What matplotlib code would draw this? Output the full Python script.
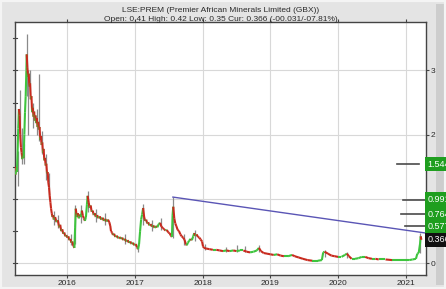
import matplotlib
matplotlib.use("Agg")
import matplotlib.pyplot as plt
from matplotlib.collections import LineCollection
import matplotlib.transforms as mtransforms
import numpy as np

# ---- data (decimal years, GBX) ----
dates = [
    2015.227, 2015.235, 2015.245, 2015.255, 2015.265, 2015.275, 2015.285, 2015.295, 2015.305, 2015.315,
    2015.325, 2015.335, 2015.345, 2015.355, 2015.365, 2015.375, 2015.385, 2015.395, 2015.40, 2015.41,
    2015.42, 2015.43, 2015.44, 2015.45, 2015.46, 2015.47, 2015.48, 2015.49, 2015.50, 2015.51,
    2015.52, 2015.53, 2015.54, 2015.55, 2015.56, 2015.57, 2015.58, 2015.59, 2015.60, 2015.61,
    2015.62, 2015.63, 2015.64, 2015.65, 2015.66, 2015.67, 2015.68, 2015.69, 2015.70, 2015.71,
    2015.72, 2015.73, 2015.74, 2015.75, 2015.76, 2015.77, 2015.78, 2015.79, 2015.80, 2015.82,
    2015.84, 2015.86, 2015.88, 2015.895, 2015.91, 2015.925, 2015.94, 2015.955, 2015.97, 2015.985,
    2016.00, 2016.015, 2016.03, 2016.045, 2016.06, 2016.075, 2016.09, 2016.105, 2016.115, 2016.125,
    2016.14, 2016.155, 2016.17, 2016.185, 2016.20, 2016.215, 2016.23, 2016.245, 2016.26, 2016.275,
    2016.29, 2016.30, 2016.315, 2016.33, 2016.345, 2016.36, 2016.375, 2016.39, 2016.405, 2016.42,
    2016.44, 2016.46, 2016.48, 2016.50, 2016.52, 2016.54, 2016.56, 2016.58, 2016.60, 2016.62,
    2016.635, 2016.645, 2016.66, 2016.675, 2016.69, 2016.71, 2016.73, 2016.75, 2016.77, 2016.79,
    2016.81, 2016.83, 2016.85, 2016.87, 2016.89, 2016.91, 2016.93, 2016.95, 2016.97, 2016.99,
    2017.01, 2017.03, 2017.045, 2017.06, 2017.075, 2017.09, 2017.105, 2017.12, 2017.135, 2017.15,
    2017.165, 2017.18, 2017.195, 2017.21, 2017.23, 2017.25, 2017.27, 2017.29, 2017.31, 2017.33,
    2017.35, 2017.37, 2017.39, 2017.41, 2017.43, 2017.45, 2017.47, 2017.49, 2017.51, 2017.53,
    2017.545, 2017.555, 2017.565, 2017.58, 2017.595, 2017.61, 2017.63, 2017.65, 2017.67, 2017.69,
    2017.71, 2017.73, 2017.75, 2017.765, 2017.78, 2017.80, 2017.82, 2017.84, 2017.86, 2017.875,
    2017.89, 2017.91, 2017.93, 2017.95, 2017.97, 2017.99, 2018.005, 2018.02, 2018.05, 2018.10,
    2018.15, 2018.20, 2018.25, 2018.30, 2018.35, 2018.40, 2018.45, 2018.50, 2018.55, 2018.60,
    2018.65, 2018.70, 2018.75, 2018.80, 2018.83, 2018.86, 2018.90, 2018.95, 2019.00, 2019.05,
    2019.10, 2019.15, 2019.20, 2019.26, 2019.32, 2019.36, 2019.42, 2019.48, 2019.55, 2019.62,
    2019.70, 2019.76, 2019.78, 2019.80, 2019.85, 2019.90, 2019.95, 2020.00, 2020.05, 2020.10,
    2020.13, 2020.16, 2020.20, 2020.25, 2020.30, 2020.35, 2020.40, 2020.45, 2020.50, 2020.55,
    2020.60, 2020.70, 2020.80, 2020.90, 2021.00, 2021.05, 2021.10, 2021.15, 2021.17, 2021.19,
    2021.21, 2021.22, 2021.23]
close = [
    1.50, 1.38, 1.48, 1.42, 1.70, 2.10, 2.40, 2.30, 2.00, 1.80,
    1.72, 1.62, 1.70, 1.64, 2.00, 2.35, 2.60, 3.00, 3.25, 3.05,
    2.90, 2.95, 2.75, 2.80, 2.55, 2.60, 2.35, 2.42, 2.28, 2.36,
    2.22, 2.30, 2.18, 2.26, 2.12, 2.20, 2.08, 2.12, 1.92, 1.98,
    1.84, 1.88, 1.72, 1.78, 1.60, 1.64, 1.52, 1.55, 1.40, 1.42,
    1.25, 1.18, 1.05, 0.95, 0.85, 0.78, 0.72, 0.75, 0.68, 0.72,
    0.64, 0.67, 0.56, 0.60, 0.50, 0.53, 0.46, 0.48, 0.42, 0.44,
    0.40, 0.42, 0.36, 0.38, 0.32, 0.34, 0.27, 0.24, 0.55, 0.85,
    0.72, 0.78, 0.70, 0.76, 0.72, 0.82, 0.74, 0.70, 0.66, 0.72,
    0.92, 1.05, 0.95, 0.86, 0.90, 0.80, 0.82, 0.75, 0.78, 0.72,
    0.75, 0.70, 0.73, 0.68, 0.71, 0.66, 0.69, 0.65, 0.68, 0.64,
    0.58, 0.50, 0.48, 0.44, 0.46, 0.41, 0.43, 0.39, 0.41, 0.38,
    0.40, 0.36, 0.38, 0.34, 0.36, 0.32, 0.34, 0.30, 0.32, 0.28,
    0.30, 0.25, 0.22, 0.30, 0.50, 0.68, 0.76, 0.86, 0.72, 0.66,
    0.68, 0.62, 0.64, 0.59, 0.61, 0.57, 0.59, 0.55, 0.58, 0.56,
    0.61, 0.63, 0.57, 0.55, 0.53, 0.51, 0.52, 0.48, 0.47, 0.43,
    0.41, 0.75, 0.88, 0.70, 0.62, 0.58, 0.52, 0.50, 0.45, 0.42,
    0.40, 0.37, 0.30, 0.28, 0.32, 0.35, 0.38, 0.36, 0.42, 0.47,
    0.43, 0.45, 0.41, 0.40, 0.37, 0.34, 0.26, 0.24, 0.23, 0.22,
    0.21, 0.21, 0.20, 0.19, 0.20, 0.19, 0.20, 0.19, 0.20, 0.20,
    0.18, 0.17, 0.18, 0.20, 0.24, 0.19, 0.16, 0.15, 0.14, 0.13,
    0.14, 0.12, 0.11, 0.11, 0.13, 0.11, 0.09, 0.07, 0.05, 0.04,
    0.04, 0.05, 0.17, 0.18, 0.15, 0.12, 0.11, 0.10, 0.10, 0.13,
    0.15, 0.11, 0.07, 0.07, 0.08, 0.10, 0.10, 0.08, 0.07, 0.07,
    0.06, 0.06, 0.05, 0.05, 0.05, 0.05, 0.06, 0.07, 0.15, 0.16,
    0.30, 0.42, 0.366]
assert len(dates) == len(close)

# high/low wicks (grey spikes visible in the chart)
wick_dates = [2015.265, 2015.30, 2015.33, 2015.36, 2015.40, 2015.42, 2015.45, 2015.50, 2015.55,
              2015.58, 2015.62, 2015.68, 2015.73, 2015.80, 2015.86, 2016.05, 2016.12, 2016.20,
              2016.30, 2016.42, 2016.55, 2016.85, 2017.04, 2017.12, 2017.25, 2017.38, 2017.56,
              2017.73, 2017.88, 2018.03, 2018.35, 2018.50, 2018.62, 2018.83, 2019.80, 2020.13,
              2021.21]
wick_high = [1.75, 2.69, 2.10, 1.85, 3.57, 3.00, 3.00, 2.50, 2.40,
             2.95, 2.05, 1.70, 1.40, 0.82, 0.75, 0.45, 0.90, 0.90,
             1.13, 0.85, 0.78, 0.45, 0.32, 0.93, 0.68, 0.70, 1.03,
             0.45, 0.52, 0.30, 0.25, 0.28, 0.27, 0.29, 0.21, 0.18,
             0.47]
wick_low = [1.20, 1.90, 1.55, 1.55, 2.60, 2.00, 2.60, 2.10, 2.00,
            1.90, 1.70, 1.30, 1.00, 0.60, 0.55, 0.28, 0.30, 0.62,
            0.80, 0.65, 0.60, 0.30, 0.18, 0.60, 0.50, 0.52, 0.40,
            0.28, 0.35, 0.20, 0.17, 0.17, 0.18, 0.17, 0.10, 0.08,
            0.16]

trend_dates = [2017.56, 2021.30]
trend_vals = [1.03, 0.47]

target_levels = [1.544, 0.991, 0.764, 0.577]
target_labels = ["1.544", "0.991", "0.764", "0.577"]
target_start = [0.929, 0.945, 0.940, 0.950]   # axes-fraction start of the marker lines
target_end = [0.983, 1.0, 1.0, 1.0]
current_level = 0.366
current_label = "0.366"

title1 = "LSE:PREM (Premier African Minerals Limited (GBX))"
title2 = "Open: 0.41 High: 0.42 Low: 0.35 Cur: 0.366 (-00.031/-07.81%)"
year_ticks = [2016, 2017, 2018, 2019, 2020, 2021]
y_ticks = [0, 1, 2, 3]

# ---- figure ----
FONT = "Liberation Sans"
TXT = "#2a2a2a"
fig = plt.figure(figsize=(4.46, 2.89), dpi=100, facecolor="#e4e4e4")
fig.patches.append(plt.Rectangle((0.978, 0.015), 0.022, 0.97, transform=fig.transFigure,
                                 facecolor="#cdcdcd", edgecolor="none", zorder=-2))
fig.patches.append(plt.Rectangle((0, 0), 1, 1, transform=fig.transFigure,
                                 facecolor="none", edgecolor="#f4f4f4", lw=3, zorder=-1))

ax = fig.add_axes([0.0336, 0.0484, 0.9215, 0.8755])
ax.set_facecolor("white")
ax.set_xlim(2015.227, 2021.298)
ax.set_ylim(-0.182, 3.753)

ax.set_xticks(year_ticks)
ax.set_xticklabels([str(y) for y in year_ticks], fontsize=6, family=FONT, color=TXT)
ax.yaxis.tick_right()
ax.set_yticks(y_ticks)
ax.set_yticklabels([str(v) for v in y_ticks], fontsize=6, family=FONT, color=TXT)
ax.tick_params(axis="y", which="major", direction="out", length=2, pad=1.5, color="#444444")
ax.tick_params(axis="x", which="major", direction="out", length=2, pad=1.5, color="#444444",
               top=True)
ax.grid(True, color="#d8d8d8", lw=0.8)
ax.set_axisbelow(True)
for s in ax.spines.values():
    s.set_color("#444444")
    s.set_linewidth(1.0)

bt = mtransforms.blended_transform_factory(ax.transAxes, ax.transData)

# left minor ticks every 0.5
for v in [0.5 * i for i in range(0, 8)]:
    ax.plot([-0.004, 0.004], [v, v], transform=bt, color="#444444", lw=0.8, clip_on=False)

# wicks
ax.vlines(wick_dates, wick_low, wick_high, color="#8a8a8a", lw=0.9, zorder=2)

# price segments, green up / red down
d = np.array(dates)
c = np.array(close)
segs = np.stack([np.column_stack([d[:-1], c[:-1]]), np.column_stack([d[1:], c[1:]])], axis=1)
cols = ["#3ec43e" if c[i + 1] >= c[i] else "#c82a1e" for i in range(len(c) - 1)]
ax.add_collection(LineCollection(segs, colors=cols, linewidths=1.5, zorder=3))

# trend line
ax.plot(trend_dates, trend_vals, color="#5a55b5", lw=1.0, zorder=4, clip_on=False)

# target marker lines
for lvl, x0, x1 in zip(target_levels, target_start, target_end):
    ax.plot([x0, x1], [lvl, lvl], transform=bt, color="#4a4a4a", lw=1.2, zorder=5)

# price boxes on right axis
for lvl, lab in zip(target_levels, target_labels):
    ax.text(1.004, lvl, lab, transform=bt, fontsize=6.5, family=FONT, color="white",
            va="center", ha="left",
            bbox=dict(boxstyle="square,pad=0.3", fc="#1f9e1f", ec="none"), zorder=6, clip_on=False)
ax.text(1.004, current_level, current_label, transform=bt, fontsize=6.5, family=FONT, color="white",
        va="center", ha="left",
        bbox=dict(boxstyle="square,pad=0.3", fc="#111111", ec="none"), zorder=6, clip_on=False)

fig.text(0.494, 0.975, title1, ha="center", va="top", fontsize=6, family=FONT, color=TXT)
fig.text(0.494, 0.943, title2, ha="center", va="top", fontsize=6, family=FONT, color=TXT)

fig.savefig("out.png", dpi=100, facecolor=fig.get_facecolor())
